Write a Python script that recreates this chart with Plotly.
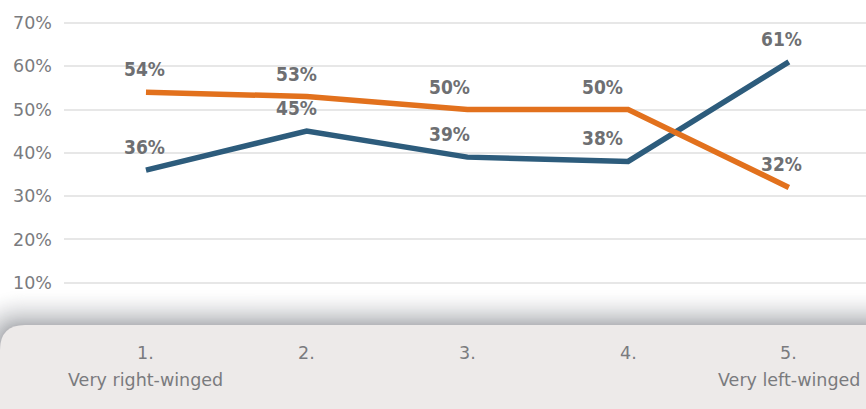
import plotly.graph_objects as go

# ---- data ----
categories = [1, 2, 3, 4, 5]
cat_numbers = ["1.", "2.", "3.", "4.", "5."]
cat_descriptions = ["Very right-winged", "", "", "", "Very left-winged"]
orange_values = [54, 53, 50, 50, 32]
blue_values = [36, 45, 39, 38, 61]
y_ticks = [10, 20, 30, 40, 50, 60, 70]
y_ticktext = ["10%", "20%", "30%", "40%", "50%", "60%", "70%"]

# ---- layout geometry (pixels) ----
W, H = 866, 409
L, R, T, B = 64, 866, 10, 326


def px2x(px):
    return (px - L) / (R - L)


def py2y(py):
    return (B - py) / (B - T)


ORANGE = "#E2711D"
BLUE = "#2D5C7C"
LABEL_GRAY = "#6e6f72"
TICK_GRAY = "#7a7b7e"
TICK_FONT = "DejaVu Sans, Verdana, sans-serif"

fig = go.Figure()
fig.add_trace(go.Scatter(x=categories, y=blue_values, mode="lines",
                         line=dict(color=BLUE, width=5.5), hoverinfo="skip"))
fig.add_trace(go.Scatter(x=categories, y=orange_values, mode="lines",
                         line=dict(color=ORANGE, width=5.5), hoverinfo="skip"))

shapes = []
PANEL_TOP = 325


def panel_path(d):
    # rounded-corner panel outline expanded by d pixels
    cx, cy = 25, 350
    left = -d
    top = PANEL_TOP - d
    return (f"M {px2x(left)},{py2y(H + 5)} "
            f"L {px2x(left)},{py2y(cy)} "
            f"Q {px2x(left)},{py2y(top)} {px2x(cx)},{py2y(top)} "
            f"L {px2x(W + 5)},{py2y(top)} "
            f"L {px2x(W + 5)},{py2y(H + 5)} Z")


# shadow above panel
D = 38.0
steps = 32
dark = (178, 180, 184)
for i in range(steps + 1):
    d = D - i * D / steps
    t = 1 - d / D
    f = t ** 1.9
    c = tuple(int(round(255 * (1 - f) + dark[k] * f)) for k in range(3))
    shapes.append(dict(type="path", xref="paper", yref="paper", layer="below",
                       path=panel_path(d), fillcolor=f"rgb{c}", line=dict(width=0)))

# panel
shapes.append(dict(type="path", xref="paper", yref="paper", layer="below",
                   path=panel_path(0), fillcolor="#edeae9", line=dict(width=0)))

annotations = []
# category labels
for c, num, desc in zip(categories, cat_numbers, cat_descriptions):
    annotations.append(dict(x=c, xref="x", y=py2y(353), yref="paper", text=num,
                            showarrow=False, yanchor="middle", xanchor="center",
                            font=dict(family=TICK_FONT, size=17.5, color=TICK_GRAY)))
    if desc:
        annotations.append(dict(x=c, xref="x", y=py2y(380), yref="paper", text=desc,
                                showarrow=False, yanchor="middle", xanchor="center",
                                font=dict(family=TICK_FONT, size=17.5, color=TICK_GRAY)))

# data labels
label_xshift = [-1, -10, -18, -26, -7]
label_font = dict(family="DejaVu Sans Condensed, Liberation Sans Narrow, Arial Narrow, sans-serif",
                  size=19, color=LABEL_GRAY, weight="bold")
for vals in (orange_values, blue_values):
    for c, v, xs in zip(categories, vals, label_xshift):
        annotations.append(dict(x=c, y=v, xref="x", yref="y", text=f"{v}%",
                                showarrow=False, yanchor="middle", xanchor="center",
                                yshift=23, xshift=xs, font=label_font))

fig.update_layout(
    width=W, height=H,
    margin=dict(l=L, r=W - R, t=T, b=H - B, pad=0),
    paper_bgcolor="white", plot_bgcolor="rgba(0,0,0,0)",
    showlegend=False,
    shapes=shapes,
    annotations=annotations,
    xaxis=dict(range=[0.49, 5.48], showgrid=False, zeroline=False,
               showticklabels=False, showline=False, fixedrange=True),
    yaxis=dict(range=[0, (B - T) / 4.33], tickvals=y_ticks, ticktext=y_ticktext,
               showgrid=True, gridcolor="#e7e7e7", gridwidth=2, zeroline=False,
               showline=False, ticks="", ticklabelstandoff=11,
               tickfont=dict(family=TICK_FONT, size=17.5, color=TICK_GRAY),
               fixedrange=True),
)

fig.write_html("out.html", config={"displayModeBar": False},
               post_script="document.body.style.margin='0';document.body.style.overflow='hidden';")
